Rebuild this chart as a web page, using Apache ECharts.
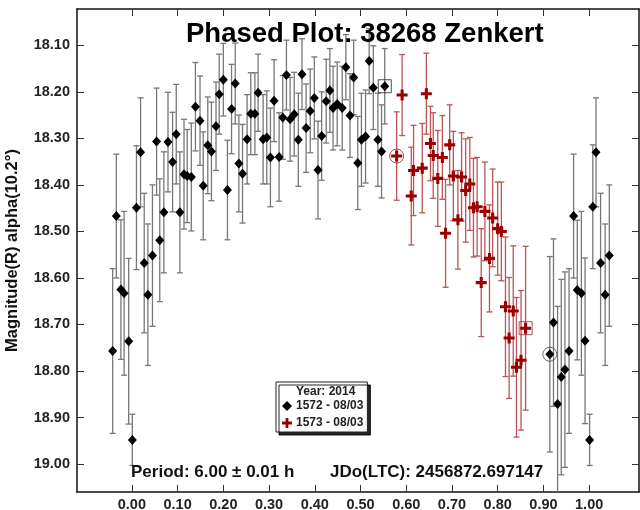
<!DOCTYPE html>
<html>
<head>
<meta charset="utf-8">
<script src="https://cdn.jsdelivr.net/npm/echarts@6/dist/echarts.min.js"></script>
<style>html,body{margin:0;padding:0;background:#fff}#c{width:640px;height:510px}</style>
</head>
<body>
<div id="c"></div>
<script>
// ---- data ----
const blackX = [-0.042, -0.034, -0.024, -0.017, -0.007, 0.001, 0.010, 0.019, 0.027, 0.035, 0.045, 0.054, 0.061, 0.070, 0.079, 0.089, 0.097, 0.105, 0.114, 0.121, 0.130, 0.139, 0.149, 0.156, 0.166, 0.174, 0.184, 0.191, 0.200, 0.209, 0.218, 0.226, 0.234, 0.242, 0.252, 0.260, 0.269, 0.276, 0.287, 0.295, 0.303, 0.311, 0.322, 0.330, 0.338, 0.346, 0.355, 0.364, 0.372, 0.381, 0.390, 0.399, 0.407, 0.415, 0.425, 0.433, 0.440, 0.449, 0.460, 0.468, 0.477, 0.485, 0.494, 0.502, 0.511, 0.519, 0.528, 0.538, 0.546, 0.553, 0.914, 0.922, 0.931, 0.939, 0.947, 0.956, 0.966, 0.974, 0.983, 0.991, 1.001, 1.008, 1.015, 1.025, 1.035, 1.044];
const blackY = [18.757, 18.467, 18.625, 18.633, 18.736, 18.948, 18.449, 18.330, 18.568, 18.636, 18.552, 18.307, 18.519, 18.459, 18.308, 18.351, 18.291, 18.459, 18.377, 18.381, 18.383, 18.232, 18.262, 18.402, 18.315, 18.328, 18.274, 18.205, 18.174, 18.411, 18.237, 18.182, 18.354, 18.376, 18.302, 18.247, 18.247, 18.202, 18.302, 18.298, 18.341, 18.219, 18.340, 18.255, 18.164, 18.259, 18.248, 18.303, 18.162, 18.278, 18.241, 18.213, 18.368, 18.295, 18.220, 18.197, 18.235, 18.226, 18.235, 18.147, 18.251, 18.169, 18.353, 18.303, 18.296, 18.134, 18.191, 18.303, 18.328, 18.188, 18.764, 18.696, 18.871, 18.813, 18.797, 18.757, 18.467, 18.626, 18.633, 18.735, 18.948, 18.447, 18.330, 18.568, 18.636, 18.552];
const blackErr = [0.177, 0.133, 0.150, 0.176, 0.178, 0.055, 0.133, 0.117, 0.150, 0.152, 0.152, 0.115, 0.132, 0.130, 0.107, 0.107, 0.107, 0.130, 0.118, 0.100, 0.116, 0.095, 0.096, 0.116, 0.104, 0.106, 0.095, 0.086, 0.078, 0.107, 0.096, 0.087, 0.104, 0.106, 0.096, 0.088, 0.088, 0.083, 0.096, 0.100, 0.106, 0.088, 0.095, 0.090, 0.075, 0.090, 0.090, 0.100, 0.076, 0.095, 0.090, 0.088, 0.105, 0.095, 0.090, 0.090, 0.090, 0.090, 0.090, 0.070, 0.090, 0.080, 0.100, 0.100, 0.100, 0.070, 0.090, 0.100, 0.100, 0.081, 0.210, 0.180, 0.210, 0.210, 0.210, 0.177, 0.133, 0.150, 0.176, 0.178, 0.055, 0.133, 0.117, 0.150, 0.152, 0.152];

const redX = [0.579, 0.591, 0.611, 0.616, 0.635, 0.644, 0.653, 0.659, 0.669, 0.679, 0.686, 0.695, 0.703, 0.713, 0.721, 0.730, 0.739, 0.747, 0.755, 0.764, 0.772, 0.782, 0.789, 0.800, 0.808, 0.817, 0.825, 0.834, 0.841, 0.851, 0.861];
const redY = [18.338, 18.207, 18.424, 18.369, 18.364, 18.204, 18.311, 18.337, 18.386, 18.341, 18.504, 18.314, 18.381, 18.475, 18.383, 18.412, 18.398, 18.449, 18.447, 18.610, 18.457, 18.558, 18.471, 18.494, 18.500, 18.662, 18.729, 18.671, 18.792, 18.777, 18.708];
const redErr = [0.095, 0.087, 0.105, 0.097, 0.096, 0.087, 0.080, 0.092, 0.103, 0.090, 0.116, 0.086, 0.096, 0.106, 0.095, 0.111, 0.100, 0.106, 0.106, 0.116, 0.106, 0.115, 0.105, 0.100, 0.106, 0.150, 0.130, 0.140, 0.150, 0.150, 0.176];

// marked points (first / last of each session)
const blackSquareMark = [[0.553, 18.188]];
const blackCircleMark = [[0.914, 18.764]];
const redSquareMark = [[0.861, 18.708]];
const redCircleMark = [[0.579, 18.338]];

const xTicks = [0.0, 0.1, 0.2, 0.3, 0.4, 0.5, 0.6, 0.7, 0.8, 0.9, 1.0];
const yTicks = [18.1, 18.2, 18.3, 18.4, 18.5, 18.6, 18.7, 18.8, 18.9, 19.0];

const titleText = 'Phased Plot: 38268 Zenkert';
const periodText = 'Period: 6.00 \u00b1 0.01 h';
const jdText = 'JDo(LTC): 2456872.697147';
const legendTitle = 'Year: 2014';
const seriesNames = ['1572 - 08/03', '1573 - 08/03'];
const yName = 'Magnitude(R) alpha(10.2\u00b0)';

// ---- chart ----
const FONT = "'Liberation Sans', Arial, sans-serif";
const zip = (xs, ys, es) => xs.map((x, i) => es ? [x, ys[i], es[i]] : [x, ys[i]]);

function errRenderer(color) {
  return function (params, api) {
    const x = api.value(0), y = api.value(1), e = api.value(2);
    const a = api.coord([x, y - e]), b = api.coord([x, y + e]);
    const hw = 3;
    const st = { stroke: color, lineWidth: 1.3 };
    return {
      type: 'group',
      children: [
        { type: 'line', shape: { x1: a[0], y1: a[1], x2: b[0], y2: b[1] }, style: st },
        { type: 'line', shape: { x1: a[0] - hw, y1: a[1], x2: a[0] + hw, y2: a[1] }, style: st },
        { type: 'line', shape: { x1: b[0] - hw, y1: b[1], x2: b[0] + hw, y2: b[1] }, style: st }
      ]
    };
  };
}

const PLUS = 'path://M3.6,0H6.4V3.6H10V6.4H6.4V10H3.6V6.4H0V3.6H3.6Z';
const axisMin = { x: -0.12, x2: 1.109, y: 18.022, y2: 19.06 };
const tickStyle = { lineStyle: { color: '#333', width: 1 } };
const fmt = v => Number(v).toFixed(2);

function xAx(pos, showLabel) {
  return {
    type: 'value', position: pos, min: axisMin.x, max: axisMin.x2,
    axisLine: { show: true, onZero: false, lineStyle: { color: '#111', width: 1.5 } },
    axisTick: Object.assign({ show: true, inside: true, length: 7, customValues: xTicks }, tickStyle),
    axisLabel: { show: showLabel, customValues: xTicks, formatter: fmt, fontFamily: FONT, fontWeight: 'bold', fontSize: 14.5, color: '#222', margin: 5 },
    splitLine: { show: false }
  };
}
function yAx(pos, showLabel) {
  return {
    type: 'value', position: pos, inverse: true, min: axisMin.y, max: axisMin.y2,
    name: showLabel ? yName : '', nameLocation: 'middle', nameGap: 56,
    nameTextStyle: { fontFamily: FONT, fontWeight: 'bold', fontSize: 16.5, color: '#111' },
    axisLine: { show: true, onZero: false, lineStyle: { color: '#111', width: 1.5 } },
    axisTick: Object.assign({ show: true, inside: true, length: 7, customValues: yTicks }, tickStyle),
    axisLabel: { show: showLabel, customValues: yTicks, formatter: fmt, fontFamily: FONT, fontWeight: 'bold', fontSize: 14.5, color: '#222', margin: 7 },
    splitLine: { show: false }
  };
}

const chart = echarts.init(document.getElementById('c'), null, { renderer: 'canvas' });
chart.setOption({
  animation: false,
  backgroundColor: '#fff',
  grid: { left: 77, right: 1, top: 9, bottom: 18, containLabel: false, outerBoundsMode: 'none' },
  title: [
    { text: titleText, left: 186, top: 20, padding: 0, textStyle: { fontFamily: FONT, fontWeight: 'bold', fontSize: 27.5, color: '#000' } },
    { text: periodText, left: 131, top: 464, padding: 0, textStyle: { fontFamily: FONT, fontWeight: 'bold', fontSize: 17, color: '#111' } },
    { text: jdText, left: 330, top: 464, padding: 0, textStyle: { fontFamily: FONT, fontWeight: 'bold', fontSize: 17, color: '#111' } }
  ],
  legend: {
    data: seriesNames, orient: 'vertical', left: 276, top: 382,
    padding: [18, 4, 3, 6], itemGap: 5, itemWidth: 10, itemHeight: 10,
    backgroundColor: '#fff', borderColor: '#222', borderWidth: 1, borderRadius: 0,
    shadowColor: 'rgba(0,0,0,0.85)', shadowBlur: 0, shadowOffsetX: 3, shadowOffsetY: 3,
    textStyle: { fontFamily: FONT, fontWeight: 'bold', fontSize: 12, color: '#222', padding: [0, 0, 0, -1] },
    selectedMode: false
  },
  graphic: [{
    type: 'text', left: 296, top: 386, z: 100, zlevel: 0,
    style: { text: legendTitle, font: "bold 12px 'Liberation Sans', Arial, sans-serif", fill: '#222' }
  }],
  xAxis: [xAx('bottom', true), xAx('top', false)],
  yAxis: [yAx('left', true), yAx('right', false)],
  series: [
    { type: 'custom', name: 'err1572', xAxisIndex: 0, yAxisIndex: 0, clip: true, z: 1, renderItem: errRenderer('#777777'), data: zip(blackX, blackY, blackErr), silent: true },
    { type: 'custom', name: 'err1573', xAxisIndex: 0, yAxisIndex: 0, clip: true, z: 1, renderItem: errRenderer('#bb5555'), data: zip(redX, redY, redErr), silent: true },
    { type: 'scatter', name: seriesNames[0], xAxisIndex: 0, yAxisIndex: 0, z: 3, symbol: 'diamond', symbolSize: [9, 10], itemStyle: { color: '#000', opacity: 1 }, data: zip(blackX, blackY) },
    { type: 'scatter', name: seriesNames[1], xAxisIndex: 0, yAxisIndex: 0, z: 3, symbol: PLUS, symbolSize: 11, itemStyle: { color: '#9a0000', opacity: 1 }, data: zip(redX, redY) },
    { type: 'scatter', name: 'm1', z: 4, symbol: 'rect', symbolSize: 13, itemStyle: { color: 'rgba(0,0,0,0)', borderColor: '#222', borderWidth: 1 }, data: blackSquareMark, silent: true },
    { type: 'scatter', name: 'm2', z: 4, symbol: 'circle', symbolSize: 14, itemStyle: { color: 'rgba(0,0,0,0)', borderColor: '#444', borderWidth: 1 }, data: blackCircleMark, silent: true },
    { type: 'scatter', name: 'm3', z: 4, symbol: 'rect', symbolSize: 13, itemStyle: { color: 'rgba(0,0,0,0)', borderColor: '#9a2020', borderWidth: 1 }, data: redSquareMark, silent: true },
    { type: 'scatter', name: 'm4', z: 4, symbol: 'circle', symbolSize: 14, itemStyle: { color: 'rgba(0,0,0,0)', borderColor: '#9a2020', borderWidth: 1 }, data: redCircleMark, silent: true }
  ]
});
</script>
</body>
</html>
